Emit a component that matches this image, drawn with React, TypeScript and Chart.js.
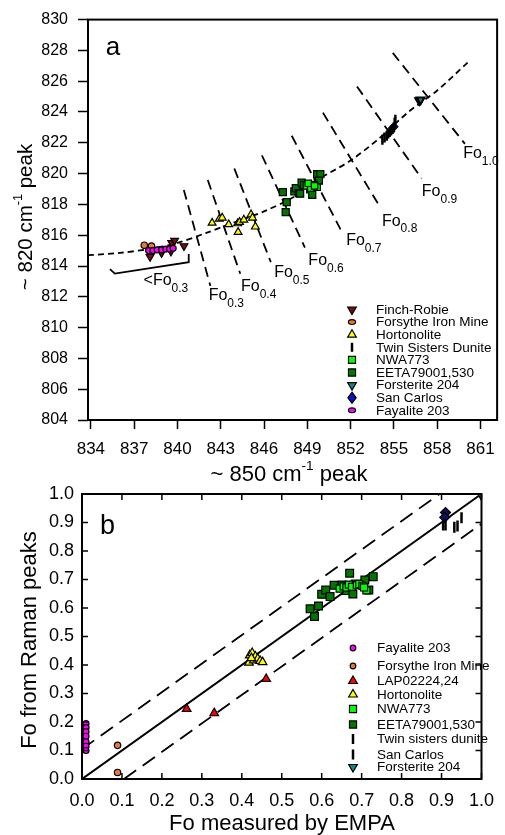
import React, { useEffect, useRef } from 'react';
import { Chart, registerables } from 'chart.js';
Chart.register(...registerables);

const FONT = '"Liberation Sans", Arial, Helvetica, sans-serif';
type P = { x: number; y: number };

// ---------------- Panel a data ----------------
const aXTickValues = [834, 837, 840, 843, 846, 849, 852, 855, 858, 861];
const aYTickValues = [804, 806, 808, 810, 812, 814, 816, 818, 820, 822, 824, 826, 828, 830];

const aFinchRobie: P[] = [
  { x: 838.1, y: 814.6 }, { x: 838.9, y: 814.85 }, { x: 839.55, y: 814.95 },
  { x: 839.6, y: 815.5 }, { x: 839.8, y: 815.65 }, { x: 840.45, y: 815.3 },
];
const aForsythe: P[] = [{ x: 837.7, y: 815.35 }, { x: 838.2, y: 815.3 }];
const aFayalite: P[] = [
  { x: 838.0, y: 815.0 }, { x: 838.3, y: 815.0 }, { x: 838.6, y: 815.05 }, { x: 838.9, y: 815.05 },
  { x: 839.2, y: 815.1 }, { x: 839.45, y: 815.1 }, { x: 839.7, y: 815.15 },
];
const aHortonolite: P[] = [
  { x: 842.4, y: 816.8 }, { x: 842.9, y: 817.06 }, { x: 843.1, y: 817.13 }, { x: 843.55, y: 816.7 },
  { x: 844.17, y: 816.76 }, { x: 844.2, y: 816.2 }, { x: 844.3, y: 816.85 }, { x: 844.6, y: 817.0 },
  { x: 845.1, y: 817.34 }, { x: 845.2, y: 817.13 }, { x: 845.4, y: 816.55 },
];
const aTwinSisters: P[] = [
  { x: 854.2, y: 822.2 }, { x: 854.35, y: 822.35 }, { x: 854.5, y: 822.45 }, { x: 854.6, y: 822.6 },
  { x: 854.7, y: 822.7 }, { x: 854.8, y: 822.8 }, { x: 854.9, y: 822.9 }, { x: 855.0, y: 823.0 },
  { x: 855.05, y: 823.3 }, { x: 855.1, y: 823.5 },
];
const aNWA773: P[] = [
  { x: 848.93, y: 819.2 }, { x: 849.23, y: 819.05 }, { x: 849.06, y: 819.37 },
  { x: 849.68, y: 819.11 }, { x: 849.5, y: 819.2 },
];
const aEETA: P[] = [
  { x: 847.3, y: 818.8 }, { x: 847.57, y: 818.15 }, { x: 847.5, y: 817.5 }, { x: 848.1, y: 818.84 },
  { x: 848.2, y: 819.05 }, { x: 848.4, y: 818.73 }, { x: 848.6, y: 819.41 }, { x: 848.5, y: 818.7 },
  { x: 848.77, y: 819.26 }, { x: 849.2, y: 818.98 }, { x: 849.34, y: 818.62 }, { x: 849.68, y: 819.96 },
  { x: 849.9, y: 819.96 }, { x: 849.8, y: 819.54 }, { x: 849.45, y: 819.26 },
];
const aForsterite: P[] = [{ x: 856.75, y: 824.75 }, { x: 856.85, y: 824.8 }];
const aSanCarlos: P[] = [{ x: 855.0, y: 823.05 }];

const aTrend: P[] = [
  { x: 833.8, y: 814.7 }, { x: 836, y: 814.85 }, { x: 838, y: 815.1 }, { x: 840, y: 815.5 },
  { x: 842, y: 816.15 }, { x: 844, y: 816.85 }, { x: 846, y: 817.55 }, { x: 848, y: 818.45 },
  { x: 850, y: 819.75 }, { x: 852, y: 820.85 }, { x: 854, y: 822.3 }, { x: 856, y: 824.0 },
  { x: 858, y: 825.4 }, { x: 860.15, y: 827.25 },
];
const aFoLevels = ['0.3', '0.4', '0.5', '0.6', '0.7', '0.8', '0.9', '1.0'];
const aFoTop: P[] = [
  { x: 840.44, y: 818.94 }, { x: 842.1, y: 819.58 }, { x: 843.94, y: 820.33 }, { x: 845.85, y: 821.18 },
  { x: 847.92, y: 822.46 }, { x: 850.08, y: 823.96 }, { x: 852.44, y: 825.66 }, { x: 854.92, y: 827.84 },
];
const aFoBottom: P[] = [
  { x: 842.28, y: 812.71 }, { x: 844.35, y: 813.5 }, { x: 846.47, y: 814.25 }, { x: 848.83, y: 815.2 },
  { x: 851.3, y: 816.38 }, { x: 853.94, y: 817.98 }, { x: 856.92, y: 819.69 }, { x: 859.92, y: 821.93 },
];
const aFoLabelAt: P[] = [
  { x: 842.16, y: 812.08 }, { x: 844.4, y: 812.65 }, { x: 846.7, y: 813.56 }, { x: 849.07, y: 814.35 },
  { x: 851.69, y: 815.63 }, { x: 854.17, y: 816.91 }, { x: 856.93, y: 818.84 }, { x: 859.8, y: 821.29 },
];
const aBracket: P[] = [
  { x: 835.32, y: 813.8 }, { x: 835.66, y: 813.51 }, { x: 840.78, y: 814.25 }, { x: 840.78, y: 814.78 },
];
const aBracketLabelAt: P = { x: 837.65, y: 813.03 };

// ---------------- Panel b data ----------------
const bTickValues = [0, 0.1, 0.2, 0.3, 0.4, 0.5, 0.6, 0.7, 0.8, 0.9, 1.0];
const bFayalite: P[] = [
  { x: 0.01, y: 0.194 }, { x: 0.01, y: 0.18 }, { x: 0.01, y: 0.166 }, { x: 0.01, y: 0.15 },
  { x: 0.01, y: 0.13 }, { x: 0.01, y: 0.115 }, { x: 0.01, y: 0.1 },
];
const bForsythe: P[] = [{ x: 0.089, y: 0.118 }, { x: 0.089, y: 0.023 }];
const bLAP: P[] = [{ x: 0.262, y: 0.246 }, { x: 0.331, y: 0.231 }, { x: 0.461, y: 0.351 }];
const bHortonolite: P[] = [
  { x: 0.418, y: 0.408 }, { x: 0.42, y: 0.434 }, { x: 0.426, y: 0.442 }, { x: 0.43, y: 0.416 },
  { x: 0.434, y: 0.43 }, { x: 0.44, y: 0.422 }, { x: 0.446, y: 0.414 }, { x: 0.452, y: 0.41 },
  { x: 0.424, y: 0.424 },
];
const bNWA773: P[] = [
  { x: 0.645, y: 0.668 }, { x: 0.655, y: 0.676 }, { x: 0.662, y: 0.672 }, { x: 0.668, y: 0.682 },
  { x: 0.676, y: 0.674 }, { x: 0.688, y: 0.68 }, { x: 0.694, y: 0.684 }, { x: 0.702, y: 0.678 },
  { x: 0.712, y: 0.662 }, { x: 0.706, y: 0.672 },
];
const bEETA: P[] = [
  { x: 0.571, y: 0.597 }, { x: 0.592, y: 0.607 }, { x: 0.582, y: 0.57 }, { x: 0.6, y: 0.648 },
  { x: 0.61, y: 0.663 }, { x: 0.621, y: 0.64 }, { x: 0.631, y: 0.68 }, { x: 0.67, y: 0.722 },
  { x: 0.651, y: 0.681 }, { x: 0.662, y: 0.661 }, { x: 0.678, y: 0.649 }, { x: 0.708, y: 0.698 },
  { x: 0.729, y: 0.71 }, { x: 0.718, y: 0.663 }, { x: 0.684, y: 0.684 },
];
const bTwinSisters: P[] = [
  { x: 0.904, y: 0.891 }, { x: 0.91, y: 0.891 }, { x: 0.932, y: 0.883 }, { x: 0.94, y: 0.888 },
  { x: 0.95, y: 0.917 },
];
const bSanCarlos: P[] = [{ x: 0.91, y: 0.935 }, { x: 0.908, y: 0.918 }];
const bForsterite: P[] = [{ x: 1.0, y: 0.995 }];
const bOneToOne: P[] = [{ x: 0, y: 0 }, { x: 1, y: 1 }];
const bUpper: P[] = [{ x: 0, y: 0.105 }, { x: 0.895, y: 1.0 }];
const bLower: P[] = [{ x: 0.105, y: 0 }, { x: 1.0, y: 0.895 }];

// ---------------- colours ----------------
const C = {
  finch: '#7a0c0c', forsythe: '#e8783a', hortonolite: '#ffff00', nwa: '#00ff00', eeta: '#007800',
  forsterite: '#0a8a8a', sanCarlos: '#1010c8', fayalite: '#ff00ff', lap: '#ff0000',
};

// ---------------- helpers ----------------
function markerDs(label: string, data: P[], style: string, color: string, radius: number, rotation = 0, order = 1, bw = 1.2) {
  return {
    label, data, showLine: false, pointStyle: style, pointRotation: rotation, pointRadius: radius,
    pointHoverRadius: radius, pointBackgroundColor: color, pointBorderColor: '#000', pointBorderWidth: bw,
    backgroundColor: color, borderColor: '#000', order,
  };
}
function lineDs(label: string, data: P[], dash: number[], width = 1.8, tension = 0) {
  return {
    label, data, showLine: true, pointRadius: 0, pointHoverRadius: 0, borderColor: '#000',
    borderWidth: width, borderDash: dash, fill: false, tension, order: 10,
  };
}

function drawMarker(ctx: CanvasRenderingContext2D, kind: string, x: number, y: number, r: number, fill: string) {
  ctx.save();
  ctx.fillStyle = fill;
  ctx.strokeStyle = '#000';
  ctx.lineWidth = 1.2;
  ctx.beginPath();
  if (kind === 'circle') ctx.arc(x, y, r, 0, Math.PI * 2);
  else if (kind === 'ellipse') ctx.ellipse(x, y, r * 1.2, r * 0.8, 0, 0, Math.PI * 2);
  else if (kind === 'tri') {
    ctx.moveTo(x, y - r); ctx.lineTo(x + r * 0.866, y + r * 0.5); ctx.lineTo(x - r * 0.866, y + r * 0.5); ctx.closePath();
  } else if (kind === 'triDown') {
    ctx.moveTo(x, y + r); ctx.lineTo(x + r * 0.866, y - r * 0.5); ctx.lineTo(x - r * 0.866, y - r * 0.5); ctx.closePath();
  } else if (kind === 'rect') {
    const s = r * 0.707; ctx.rect(x - s, y - s, 2 * s, 2 * s);
  } else if (kind === 'diamond') {
    ctx.moveTo(x, y - r); ctx.lineTo(x + r * 0.75, y); ctx.lineTo(x, y + r); ctx.lineTo(x - r * 0.75, y); ctx.closePath();
  } else if (kind === 'vline') {
    ctx.lineWidth = 2.5; ctx.moveTo(x, y - r); ctx.lineTo(x, y + r); ctx.stroke(); ctx.restore(); return;
  }
  ctx.fill();
  ctx.stroke();
  ctx.restore();
}

function drawSubText(ctx: CanvasRenderingContext2D, x: number, y: number, main: string, sub: string, size: number, subSize: number) {
  ctx.save();
  ctx.fillStyle = '#000';
  ctx.textBaseline = 'middle';
  ctx.textAlign = 'left';
  ctx.font = `${size}px ${FONT}`;
  ctx.fillText(main, x, y);
  const w = ctx.measureText(main).width;
  ctx.font = `${subSize}px ${FONT}`;
  ctx.fillText(sub, x + w, y + size * 0.5);
  ctx.restore();
}

type Part = { t: string; sup?: boolean };
function drawTitle(ctx: CanvasRenderingContext2D, cx: number, cy: number, parts: Part[], size: number, rotate: boolean) {
  ctx.save();
  ctx.translate(cx, cy);
  if (rotate) ctx.rotate(-Math.PI / 2);
  ctx.fillStyle = '#000';
  ctx.textBaseline = 'middle';
  ctx.textAlign = 'left';
  const supSize = size * 0.62;
  const widths = parts.map((p) => {
    ctx.font = `${p.sup ? supSize : size}px ${FONT}`;
    return ctx.measureText(p.t).width;
  });
  let x = -widths.reduce((a, b) => a + b, 0) / 2;
  parts.forEach((p, i) => {
    ctx.font = `${p.sup ? supSize : size}px ${FONT}`;
    ctx.fillText(p.t, x, p.sup ? -size * 0.38 : 0);
    x += widths[i];
  });
  ctx.restore();
}

type LegendEntry = { label: string; kind: string; color: string; r: number };
function drawLegend(ctx: CanvasRenderingContext2D, entries: LegendEntry[], markerX: number, textX: number, rows: number[], size: number) {
  entries.forEach((e, i) => {
    drawMarker(ctx, e.kind, markerX, rows[i], e.r, e.color);
    ctx.save();
    ctx.fillStyle = '#000';
    ctx.font = `${size}px ${FONT}`;
    ctx.textBaseline = 'middle';
    ctx.textAlign = 'left';
    ctx.fillText(e.label, textX, rows[i] + 0.5);
    ctx.restore();
  });
}

const legendA: LegendEntry[] = [
  { label: 'Finch-Robie', kind: 'triDown', color: C.finch, r: 5 },
  { label: 'Forsythe Iron Mine', kind: 'ellipse', color: C.forsythe, r: 3 },
  { label: 'Hortonolite', kind: 'tri', color: C.hortonolite, r: 5 },
  { label: 'Twin Sisters Dunite', kind: 'vline', color: '#000', r: 4.5 },
  { label: 'NWA773', kind: 'rect', color: C.nwa, r: 5 },
  { label: 'EETA79001,530', kind: 'rect', color: C.eeta, r: 5 },
  { label: 'Forsterite 204', kind: 'triDown', color: C.forsterite, r: 5 },
  { label: 'San Carlos', kind: 'diamond', color: C.sanCarlos, r: 5.5 },
  { label: 'Fayalite 203', kind: 'ellipse', color: C.fayalite, r: 3 },
];
const legendARows = legendA.map((_, i) => 309.5 + i * 12.6);

const legendB: LegendEntry[] = [
  { label: 'Fayalite 203', kind: 'circle', color: C.fayalite, r: 2.8 },
  { label: 'Forsythe Iron Mine', kind: 'circle', color: C.forsythe, r: 2.8 },
  { label: 'LAP02224,24', kind: 'tri', color: C.lap, r: 5 },
  { label: 'Hortonolite', kind: 'tri', color: C.hortonolite, r: 5 },
  { label: 'NWA773', kind: 'rect', color: C.nwa, r: 5 },
  { label: 'EETA79001,530', kind: 'rect', color: C.eeta, r: 5 },
  { label: 'Twin sisters dunite', kind: 'vline', color: '#000', r: 5 },
  { label: 'San Carlos', kind: 'vline', color: '#000', r: 5 },
  { label: 'Forsterite 204', kind: 'triDown', color: C.forsterite, r: 5 },
];
const legendBRows = [648, 666, 681, 694.5, 709, 724.5, 739, 754.5, 767];

function configA(): any {
  const foDatasets = aFoLevels.map((lv, i) => lineDs('Fo' + lv, [aFoTop[i], aFoBottom[i]], [10, 6], 1.8));
  const plugin = {
    id: 'panelA',
    afterDraw(chart: any) {
      const { ctx, chartArea: ca, scales } = chart;
      const xs = scales.x, ys = scales.y;
      ctx.save();
      ctx.strokeStyle = '#000';
      ctx.lineWidth = 2;
      ctx.strokeRect(ca.left, ca.top, ca.right - ca.left, ca.bottom - ca.top);
      ctx.restore();
      ctx.save();
      ctx.fillStyle = '#000';
      ctx.font = `26px ${FONT}`;
      ctx.textAlign = 'center';
      ctx.textBaseline = 'middle';
      ctx.fillText('a', 113, 48);
      ctx.restore();
      aFoLevels.forEach((lv, i) => {
        drawSubText(ctx, xs.getPixelForValue(aFoLabelAt[i].x), ys.getPixelForValue(aFoLabelAt[i].y), 'Fo', lv, 16, 12);
      });
      drawSubText(ctx, xs.getPixelForValue(aBracketLabelAt.x), ys.getPixelForValue(aBracketLabelAt.y), '<Fo', '0.3', 16, 12);
      drawLegend(ctx, legendA, 352, 376, legendARows, 13.5);
      drawTitle(ctx, 289, 475, [{ t: '~ 850 cm' }, { t: '-1', sup: true }, { t: ' peak' }], 22, false);
      drawTitle(ctx, 26, 217, [{ t: '~ 820 cm' }, { t: '-1', sup: true }, { t: ' peak' }], 20.5, true);
    },
  };
  return {
    type: 'scatter',
    data: {
      datasets: [
        markerDs('Finch-Robie', aFinchRobie, 'triangle', C.finch, 4.5, 180, 3),
        markerDs('Forsythe Iron Mine', aForsythe, 'circle', C.forsythe, 3.2, 0, 2),
        markerDs('Fayalite 203', aFayalite, 'circle', C.fayalite, 3, 0, 1),
        markerDs('Hortonolite', aHortonolite, 'triangle', C.hortonolite, 4.5, 0, 1),
        markerDs('San Carlos', aSanCarlos, 'rectRot', C.sanCarlos, 4, 0, 3),
        markerDs('Twin Sisters Dunite', aTwinSisters, 'line', '#000', 5, 90, 1, 2.5),
        markerDs('EETA79001,530', aEETA, 'rect', C.eeta, 5, 0, 2),
        markerDs('NWA773', aNWA773, 'rect', C.nwa, 4.5, 0, 1),
        markerDs('Forsterite 204', aForsterite, 'triangle', C.forsterite, 4.5, 180, 1, 2),
        lineDs('trend', aTrend, [6, 4], 1.8, 0.3),
        ...foDatasets,
        lineDs('bracket', aBracket, [], 1.8),
      ],
    },
    options: {
      responsive: false,
      animation: false,
      events: [],
      layout: { padding: { left: 0, top: 14, right: 6, bottom: 345 } },
      plugins: { legend: { display: false }, tooltip: { enabled: false } },
      scales: {
        x: {
          type: 'linear', min: 833.8, max: 862.15,
          afterBuildTicks: (s: any) => { s.ticks = aXTickValues.map((v) => ({ value: v })); },
          afterFit: (s: any) => { s.height = 70; },
          grid: { drawOnChartArea: false, tickLength: 9, tickColor: '#000', tickWidth: 1.5 },
          border: { display: false },
          ticks: { color: '#000', font: { family: FONT, size: 17 }, padding: 10, maxRotation: 0, autoSkip: false },
        },
        y: {
          type: 'linear', min: 804, max: 830,
          afterBuildTicks: (s: any) => { s.ticks = aYTickValues.map((v) => ({ value: v })); },
          afterFit: (s: any) => { s.width = 88; },
          grid: { drawOnChartArea: false, tickLength: 10, tickColor: '#000', tickWidth: 1.5 },
          border: { display: false },
          ticks: { color: '#000', font: { family: FONT, size: 16 }, padding: 10, autoSkip: false },
        },
      },
    },
    plugins: [plugin],
  };
}

function configB(): any {
  const plugin = {
    id: 'panelB',
    afterDraw(chart: any) {
      const { ctx, chartArea: ca, scales } = chart;
      const xs = scales.x, ys = scales.y;
      ctx.save();
      ctx.strokeStyle = '#000';
      ctx.lineWidth = 2;
      ctx.strokeRect(ca.left, ca.top, ca.right - ca.left, ca.bottom - ca.top);
      ctx.lineWidth = 1.5;
      ctx.beginPath();
      xs.ticks.forEach((t: any) => {
        const px = xs.getPixelForValue(t.value);
        ctx.moveTo(px, ca.bottom); ctx.lineTo(px, ca.bottom - 6);
        ctx.moveTo(px, ca.top); ctx.lineTo(px, ca.top + 6);
      });
      ys.ticks.forEach((t: any) => {
        const py = ys.getPixelForValue(t.value);
        ctx.moveTo(ca.left, py); ctx.lineTo(ca.left + 6, py);
        ctx.moveTo(ca.right, py); ctx.lineTo(ca.right - 6, py);
      });
      ctx.stroke();
      ctx.restore();
      ctx.save();
      ctx.fillStyle = '#000';
      ctx.font = `27px ${FONT}`;
      ctx.textAlign = 'center';
      ctx.textBaseline = 'middle';
      ctx.fillText('b', 107.5, 527);
      ctx.restore();
      drawLegend(ctx, legendB, 353, 377, legendBRows, 13.5);
      drawTitle(ctx, 282, 824, [{ t: 'Fo measured by EMPA' }], 22, false);
      drawTitle(ctx, 30, 640, [{ t: 'Fo from Raman peaks' }], 22, true);
    },
  };
  return {
    type: 'scatter',
    data: {
      datasets: [
        markerDs('Fayalite 203', bFayalite, 'circle', C.fayalite, 3, 0, 1),
        markerDs('Forsythe Iron Mine', bForsythe, 'circle', C.forsythe, 3.2, 0, 1),
        markerDs('LAP02224,24', bLAP, 'triangle', C.lap, 5, 0, 1),
        markerDs('Hortonolite', bHortonolite, 'triangle', C.hortonolite, 5, 0, 1),
        markerDs('NWA773', bNWA773, 'rect', C.nwa, 5, 0, 1),
        markerDs('EETA79001,530', bEETA, 'rect', C.eeta, 5.5, 0, 2),
        markerDs('Twin sisters dunite', bTwinSisters, 'line', '#000', 5.5, 90, 1, 2.5),
        markerDs('San Carlos', bSanCarlos, 'rectRot', '#101060', 5, 0, 1),
        markerDs('Forsterite 204', bForsterite, 'triangle', C.forsterite, 5, 180, 1),
        lineDs('1:1', bOneToOne, [], 2),
        lineDs('upper', bUpper, [15, 8], 1.8),
        lineDs('lower', bLower, [15, 8], 1.8),
      ],
    },
    options: {
      responsive: false,
      animation: false,
      events: [],
      layout: { padding: { left: 0, top: 494, right: 14, bottom: 0 } },
      plugins: { legend: { display: false }, tooltip: { enabled: false } },
      scales: {
        x: {
          type: 'linear', min: 0, max: 1,
          afterBuildTicks: (s: any) => { s.ticks = bTickValues.map((v) => ({ value: v })); },
          afterFit: (s: any) => { s.height = 56; },
          grid: { display: false, drawTicks: false },
          border: { display: false },
          ticks: { color: '#000', font: { family: FONT, size: 18 }, padding: 11, maxRotation: 0, autoSkip: false, callback: (v: any) => Number(v).toFixed(1) },
        },
        y: {
          type: 'linear', min: 0, max: 1,
          afterBuildTicks: (s: any) => { s.ticks = bTickValues.map((v) => ({ value: v })); },
          afterFit: (s: any) => { s.width = 82; },
          grid: { display: false, drawTicks: false },
          border: { display: false },
          ticks: { color: '#000', font: { family: FONT, size: 18 }, padding: 8, autoSkip: false, callback: (v: any) => Number(v).toFixed(1) },
        },
      },
    },
    plugins: [plugin],
  };
}

export default function App() {
  const refA = useRef<HTMLCanvasElement>(null);
  const refB = useRef<HTMLCanvasElement>(null);
  useEffect(() => {
    const ca = new Chart(refA.current as HTMLCanvasElement, configA());
    const cb = new Chart(refB.current as HTMLCanvasElement, configB());
    return () => {
      ca.destroy();
      cb.destroy();
    };
  }, []);
  return (
    <div style={{ position: 'absolute', left: 0, top: 0, width: 505, height: 835, background: '#fff' }}>
      <canvas ref={refA} width={505} height={835} style={{ position: 'absolute', left: 0, top: 0 }} />
      <canvas ref={refB} width={505} height={835} style={{ position: 'absolute', left: 0, top: 0 }} />
    </div>
  );
}
